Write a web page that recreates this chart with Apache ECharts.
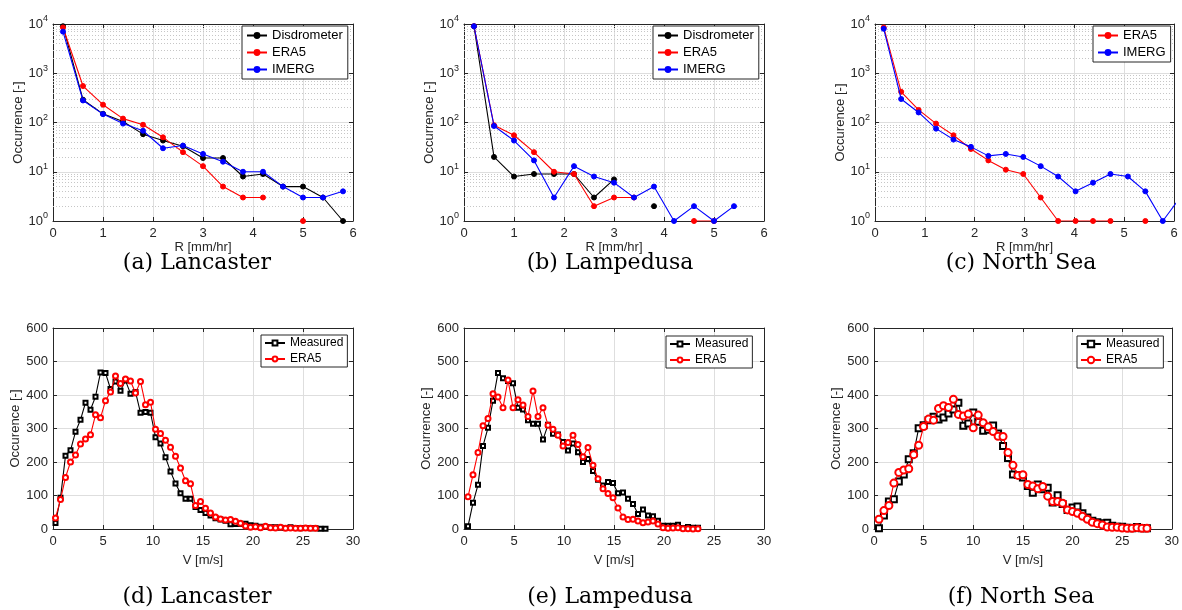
<!DOCTYPE html>
<html>
<head>
<meta charset="utf-8">
<script src="https://cdn.jsdelivr.net/npm/echarts@6/dist/echarts.min.js"></script>
<style>
  html, body { margin: 0; padding: 0; background: #fff; }
  #chart { width: 1182px; height: 610px; }
</style>
</head>
<body>
<div id="chart"></div>
<script>
// ---- Rain-rate distributions (occurrence per bin, log scale) ----
const rBins = [0.2, 0.6, 1.0, 1.4, 1.8, 2.2, 2.6, 3.0, 3.4, 3.8, 4.2, 4.6, 5.0, 5.4, 5.8];
const rBinsNorthSea = [0.175, 0.525, 0.875, 1.225, 1.575, 1.925, 2.275, 2.625, 2.975, 3.325, 3.675, 4.025, 4.375, 4.725, 5.075, 5.425, 5.775, 6.125];

const lancDisdrometer = [9000, 290, 150, 105, 58, 43, 33, 19, 19, 8, 9, 5, 5, 3, 1];
const lancEra5Rain    = [8500, 550, 230, 120, 90, 50, 25, 13, 5, 3, 3, null, 1, null, null];
const lancImerg       = [7000, 280, 148, 95, 68, 30, 34, 23, 16, 10, 10, 5, 3, 3, 4];

const lampDisdrometer = [9000, 20, 8, 9, 9, 9, 3, 7, null, 2, null, null, null, null, null];
const lampEra5Rain    = [9000, 88, 55, 25, 10, 9, 2, 3, 3, null, null, 1, 1, null, null];
const lampImerg       = [9000, 85, 43, 17, 3, 13, 8, 6, 3, 5, 1, 2, 1, 2, null];

const nsEra5Rain = [8500, 420, 180, 95, 55, 29, 17, 11, 9, 3, 1, 1, 1, 1, null, 1, null, null];
const nsImerg    = [8000, 300, 160, 75, 45, 32, 21, 23, 20, 13, 8, 4, 6, 9, 8, 4, 1, 3];

// ---- Wind-speed distributions (occurrence per bin) ----
const vLanc = [0.25, 0.75, 1.25, 1.75, 2.25, 2.75, 3.25, 3.75, 4.25, 4.75, 5.25, 5.75, 6.25, 6.75, 7.25, 7.75, 8.25, 8.75, 9.25, 9.75,
  10.25, 10.75, 11.25, 11.75, 12.25, 12.75, 13.25, 13.75, 14.25, 14.75, 15.25, 15.75, 16.25, 16.75, 17.25, 17.75, 18.25, 18.75, 19.25, 19.75,
  20.25, 20.75, 21.25, 21.75, 22.25, 22.75, 23.25, 23.75, 24.25, 24.75, 25.25, 25.75, 26.25, 26.75, 27.25];
const lancMeasured = [18, 93, 219, 235, 290, 326, 377, 356, 395, 467, 466, 418, 440, 413, 443, 404, 409, 347, 349, 347,
  274, 255, 214, 172, 136, 107, 90, 90, 66, 57, 48, 40, 32, 28, 25, 14, 15, 15, 16, 11,
  10, 7, 6, 5, 5, 4, 3, 5, 3, 2, 3, 2, 2, 1, 1];
const lancEra5Wind = [33, 88, 154, 200, 221, 254, 269, 281, 341, 332, 383, 409, 457, 434, 448, 442, 406, 440, 371, 378,
  298, 285, 265, 244, 217, 182, 144, 135, 70, 82, 62, 48, 36, 30, 27, 28, 23, 17, 9, 5,
  7, 4, 8, 4, 3, 5, 2, 3, 2, 2, 3, 2, 2];

const vLamp = [0.4, 0.9, 1.4, 1.9, 2.4, 2.9, 3.4, 3.9, 4.4, 4.9, 5.4, 5.9, 6.4, 6.9, 7.4, 7.9, 8.4, 8.9, 9.4, 9.9,
  10.4, 10.9, 11.4, 11.9, 12.4, 12.9, 13.4, 13.9, 14.4, 14.9, 15.4, 15.9, 16.4, 16.9, 17.4, 17.9, 18.4, 18.9, 19.4, 19.9,
  20.4, 20.9, 21.4, 21.9, 22.4, 22.9, 23.4];
const lampMeasured = [8, 78, 132, 248, 302, 383, 466, 450, 442, 435, 362, 357, 325, 314, 314, 267, 311, 284, 282, 260,
  234, 255, 229, 200, 209, 173, 147, 130, 140, 137, 107, 109, 90, 75, 45, 58, 40, 38, 25, 10,
  10, 10, 13, 3, 6, 4, 4];
const lampEra5Wind = [96, 162, 228, 308, 330, 404, 394, 362, 445, 362, 386, 370, 336, 412, 336, 362, 310, 298, 280, 248,
  258, 280, 252, 216, 243, 190, 150, 120, 106, 93, 63, 36, 28, 29, 24, 19, 21, 24, 15, 4,
  2, 3, 4, 1, 1, 0, 1];

const vNorth = [0.5, 1.0, 1.5, 2.0, 2.5, 3.0, 3.5, 4.0, 4.5, 5.0, 5.5, 6.0, 6.5, 7.0, 7.5, 8.0, 8.5, 9.0, 9.5, 10.0,
  10.5, 11.0, 11.5, 12.0, 12.5, 13.0, 13.5, 14.0, 14.5, 15.0, 15.5, 16.0, 16.5, 17.0, 17.5, 18.0, 18.5, 19.0, 19.5, 20.0,
  20.5, 21.0, 21.5, 22.0, 22.5, 23.0, 23.5, 24.0, 24.5, 25.0, 25.5, 26.0, 26.5, 27.0, 27.5];
const nsMeasured = [2, 40, 82, 89, 142, 163, 208, 226, 301, 310, 325, 335, 327, 333, 345, 357, 377, 308, 315, 348,
  320, 293, 296, 309, 285, 248, 212, 163, 161, 154, 128, 108, 133, 119, 123, 79, 101, 75, 57, 64,
  67, 47, 34, 25, 20, 17, 19, 10, 7, 7, 4, 2, 6, 2, 2];
const nsEra5Wind = [29, 55, 70, 137, 169, 176, 180, 222, 250, 306, 328, 325, 360, 368, 363, 387, 342, 337, 343, 302,
  340, 317, 305, 291, 277, 276, 228, 190, 160, 162, 133, 128, 120, 127, 98, 82, 82, 77, 57, 52,
  47, 38, 29, 20, 16, 12, 6, 5, 5, 3, 2, 2, 4, 2, 2];

// ---- Labels ----
const captions = ['(a) Lancaster', '(b) Lampedusa', '(c) North Sea', '(d) Lancaster', '(e) Lampedusa', '(f) North Sea'];
const rainAxisName = 'R [mm/hr]';
const windAxisName = 'V [m/s]';
const yNames = ['Occurrence [-]', 'Occurrence [-]', 'Occurence [-]', 'Occurence [-]', 'Occurrence [-]', 'Occurrence [-]'];

// ---- Styling ----
const FONT = "'Liberation Sans', Arial, Helvetica, sans-serif";
const INK = '#262626';
const GRID_LINE = '#dedede';
const MINOR_LINE = '#c6c6c6';
const BLACK = '#000000', RED = '#ff0000', BLUE = '#0000ff';

const pairs = (xs, ys) => ys.map((y, i) => [xs[i], y == null ? '-' : y]);

// panel layout (px)
const gridBoxes = [
  { left: 53, top: 24, width: 300, height: 197 },
  { left: 464, top: 24, width: 300, height: 197 },
  { left: 875, top: 24, width: 299, height: 197 },
  { left: 53, top: 328, width: 300, height: 201 },
  { left: 464, top: 328, width: 300, height: 201 },
  { left: 874, top: 328, width: 300, height: 201 }
];

// panels: series definitions
const panels = [
  { rain: true, tag: 'lanc-r', series: [
    { label: 'Disdrometer', color: BLACK, x: rBins, y: lancDisdrometer },
    { label: 'ERA5', color: RED, x: rBins, y: lancEra5Rain },
    { label: 'IMERG', color: BLUE, x: rBins, y: lancImerg }] },
  { rain: true, tag: 'lamp-r', series: [
    { label: 'Disdrometer', color: BLACK, x: rBins, y: lampDisdrometer },
    { label: 'ERA5', color: RED, x: rBins, y: lampEra5Rain },
    { label: 'IMERG', color: BLUE, x: rBins, y: lampImerg }] },
  { rain: true, tag: 'ns-r', series: [
    { label: 'ERA5', color: RED, x: rBinsNorthSea, y: nsEra5Rain },
    { label: 'IMERG', color: BLUE, x: rBinsNorthSea, y: nsImerg }] },
  { rain: false, tag: 'lanc-v', big: false, series: [
    { label: 'Measured', color: BLACK, x: vLanc, y: lancMeasured, symbol: 'emptyRect' },
    { label: 'ERA5', color: RED, x: vLanc, y: lancEra5Wind, symbol: 'emptyCircle' }] },
  { rain: false, tag: 'lamp-v', big: false, series: [
    { label: 'Measured', color: BLACK, x: vLamp, y: lampMeasured, symbol: 'emptyRect' },
    { label: 'ERA5', color: RED, x: vLamp, y: lampEra5Wind, symbol: 'emptyCircle' }] },
  { rain: false, tag: 'ns-v', big: true, series: [
    { label: 'Measured', color: BLACK, x: vNorth, y: nsMeasured, symbol: 'emptyRect' },
    { label: 'ERA5', color: RED, x: vNorth, y: nsEra5Wind, symbol: 'emptyCircle' }] }
];

const legendBoxes = [
  { left: 242, top: 26 }, { left: 653, top: 26 }, { left: 1093, top: 26 },
  { left: 261, top: 335 }, { left: 666, top: 336 }, { left: 1077, top: 336 }
];

// dotted minor grid lines for the log axes (2..9 within each decade)
const minorLevels = [];
[1, 10, 100, 1000].forEach(d => { for (let m = 2; m <= 9; m++) minorLevels.push(m * d); });

const labelStyle = { color: INK, fontSize: 13, fontFamily: FONT };
const tickStyle = { inside: true, length: 4, lineStyle: { color: INK, width: 1 } };
const lineStyleAxis = { onZero: false, lineStyle: { color: INK, width: 1 } };

const xAxes = [], yAxes = [], series = [], legends = [];

panels.forEach((p, g) => {
  const xr = p.rain ? { min: 0, max: 6, interval: 1 } : { min: 0, max: 30, interval: 5 };
  xAxes.push(Object.assign({
    type: 'value', gridIndex: g, position: 'bottom',
    axisLine: lineStyleAxis, axisTick: tickStyle,
    axisLabel: Object.assign({ margin: 6 }, labelStyle),
    splitLine: { show: true, lineStyle: { color: GRID_LINE, width: 1 } },
    name: p.rain ? rainAxisName : windAxisName, nameLocation: 'middle',
    nameGap: p.rain ? 20 : 25, nameTextStyle: labelStyle
  }, xr));
  xAxes.push(Object.assign({
    type: 'value', gridIndex: g, position: 'top',
    axisLine: lineStyleAxis, axisTick: tickStyle,
    axisLabel: { show: false }, splitLine: { show: false }
  }, xr));

  if (p.rain) {
    const yr = { type: 'log', logBase: 10, min: 1, max: 10000 };
    yAxes.push(Object.assign({
      gridIndex: g, position: 'left',
      axisLine: lineStyleAxis, axisTick: tickStyle,
      axisLabel: {
        margin: 5,
        formatter: v => '{b|10}{s|' + Math.round(Math.log10(v)) + '}',
        rich: {
          b: { fontSize: 13, fontFamily: FONT, color: INK },
          s: { fontSize: 9, fontFamily: FONT, color: INK, padding: [0, 0, 10, 0] }
        }
      },
      splitLine: { show: true, lineStyle: { color: GRID_LINE, width: 1 } },
      name: yNames[g], nameLocation: 'middle', nameGap: 28, nameTextStyle: labelStyle
    }, yr));
    yAxes.push(Object.assign({
      gridIndex: g, position: 'right',
      axisLine: lineStyleAxis, axisTick: tickStyle,
      axisLabel: { show: false }, splitLine: { show: false }
    }, yr));
  } else {
    const yr = { type: 'value', min: 0, max: 600, interval: 100 };
    yAxes.push(Object.assign({
      gridIndex: g, position: 'left',
      axisLine: lineStyleAxis, axisTick: tickStyle,
      axisLabel: Object.assign({ margin: 5 }, labelStyle),
      splitLine: { show: true, lineStyle: { color: GRID_LINE, width: 1 } },
      name: yNames[g], nameLocation: 'middle', nameGap: 29, nameTextStyle: labelStyle
    }, yr));
    yAxes.push(Object.assign({
      gridIndex: g, position: 'right',
      axisLine: lineStyleAxis, axisTick: tickStyle,
      axisLabel: { show: false }, splitLine: { show: false }
    }, yr));
  }

  // dotted minor grid on the log panels, carried by an empty helper series
  if (p.rain) {
    series.push({
      type: 'line', name: 'minor-grid|' + p.tag,
      xAxisIndex: 2 * g, yAxisIndex: 2 * g, data: [],
      silent: true, z: 1,
      markLine: {
        silent: true, symbol: ['none', 'none'], animation: false, z: 1,
        label: { show: false },
        lineStyle: { type: [1, 2], color: MINOR_LINE, width: 1 },
        emphasis: { disabled: true },
        data: minorLevels.map(v => ({ yAxis: v }))
      }
    });
  }

  const names = [];
  p.series.forEach((s, k) => {
    const name = s.label + '|' + p.tag;
    names.push(name);
    const item = {
      type: 'line', name: name,
      xAxisIndex: 2 * g, yAxisIndex: 2 * g,
      data: pairs(s.x, s.y),
      connectNulls: false, clip: true,
      showSymbol: true, showAllSymbol: true,
      lineStyle: { color: s.color, width: 1.1, type: 'solid' },
      itemStyle: { color: s.color, borderColor: s.color, borderWidth: 1 },
      emphasis: { disabled: true },
      z: 3 + k
    };
    if (p.rain) {
      item.symbol = 'circle';
      item.symbolSize = 5;
    } else {
      item.symbol = s.symbol;
      item.symbolSize = s.symbol === 'emptyRect' ? (p.big ? 6 : 4) : (p.big ? 7 : 5);
    }
    series.push(item);
  });

  legends.push({
    z: 20,
    left: legendBoxes[g].left, top: legendBoxes[g].top,
    orient: 'vertical', data: names, selectedMode: false,
    formatter: n => n.split('|')[0],
    backgroundColor: '#ffffff', borderColor: INK, borderWidth: 1, borderRadius: 0,
    padding: p.rain ? [3, 5, 3, 4] : [2, 4, 2, 3],
    itemGap: 4, itemWidth: 20,
    itemHeight: p.rain ? 6 : (p.big ? 8 : 6),
    textStyle: { fontSize: p.rain ? 13 : 12, fontFamily: FONT, color: '#000' }
  });
});

// sub-figure captions
const captionPos = [[197, 263], [610, 263], [1021, 263], [197, 597], [610, 597], [1021, 597]];
const graphics = captions.map((c, i) => ({
  type: 'text', x: captionPos[i][0], y: captionPos[i][1], silent: true,
  style: { text: c, font: "22px 'DejaVu Serif', serif", fill: '#000', align: 'center', verticalAlign: 'middle' }
}));

const chart = echarts.init(document.getElementById('chart'), null, { renderer: 'canvas' });
chart.setOption({
  animation: false,
  backgroundColor: '#ffffff',
  grid: gridBoxes,
  xAxis: xAxes,
  yAxis: yAxes,
  legend: legends,
  series: series,
  graphic: graphics
});
</script>
</body>
</html>
